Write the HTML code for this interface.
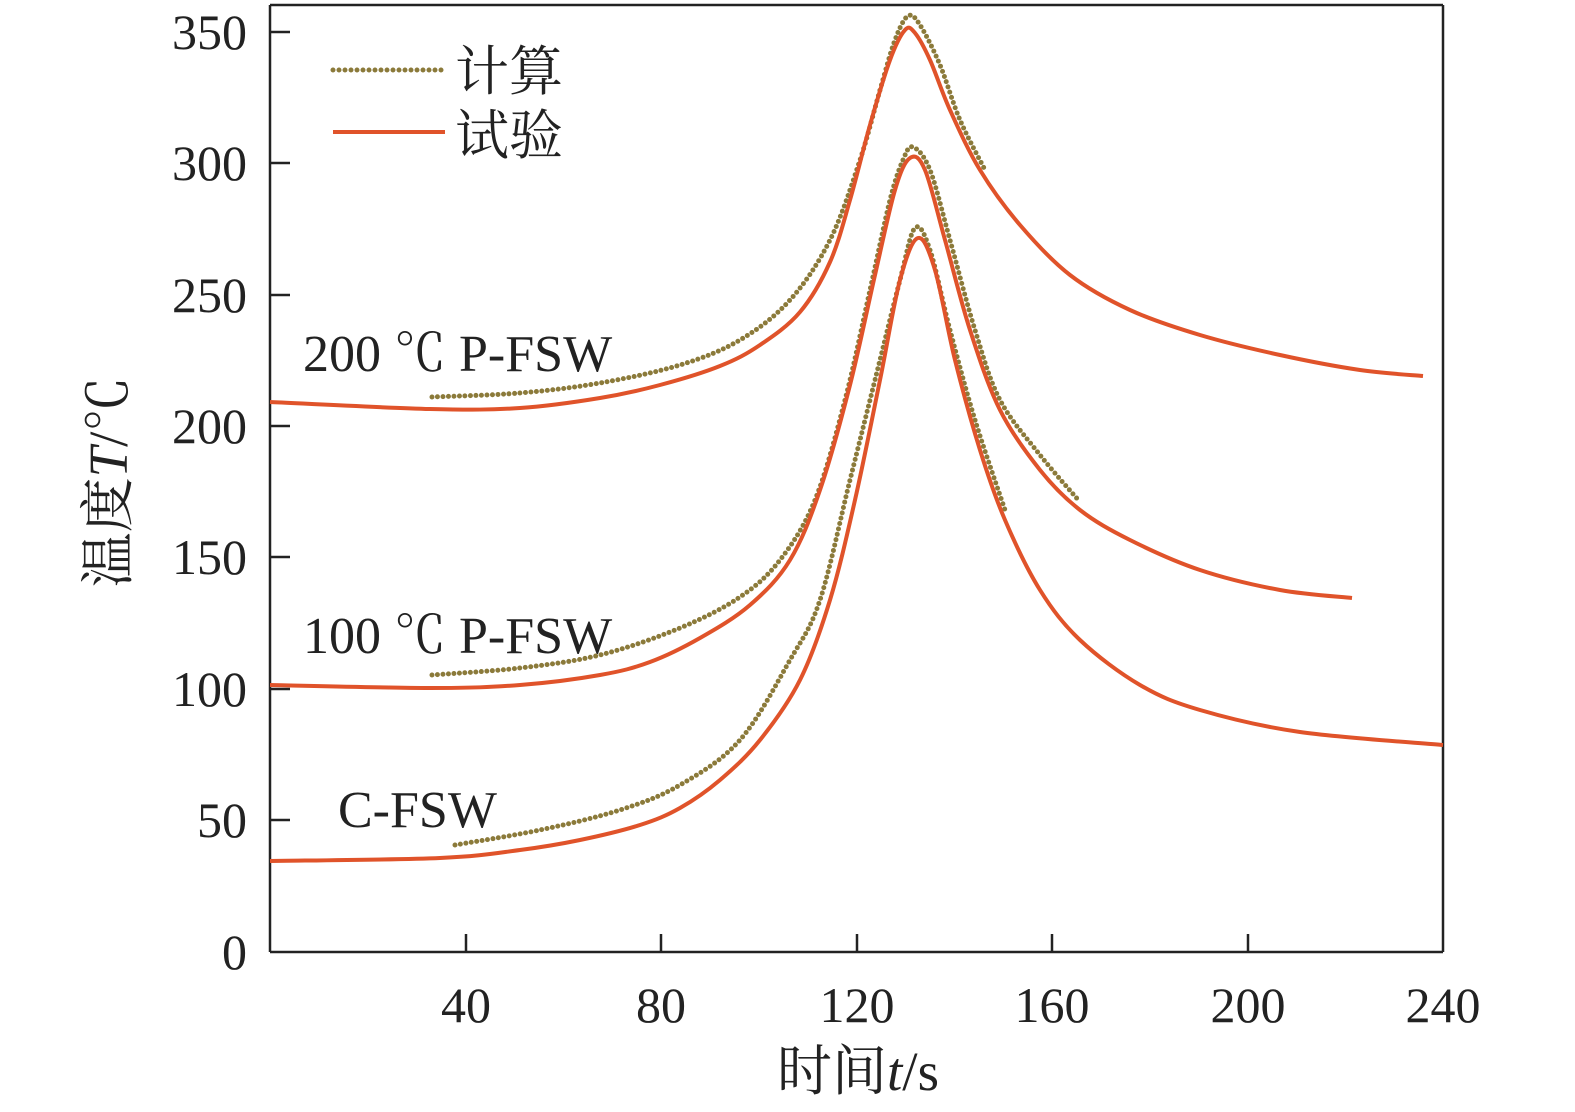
<!DOCTYPE html>
<html><head><meta charset="utf-8"><style>
html,body{margin:0;padding:0;background:#fff;overflow:hidden;}
svg{display:block;}
svg text{font-family:"Liberation Serif","Noto Serif CJK SC",serif;fill:#222;}
</style></head><body>
<svg id="s" width="1575" height="1112" viewBox="0 0 1575 1112" xmlns="http://www.w3.org/2000/svg">
<rect width="1575" height="1112" fill="#fff"/>
<g stroke="#222" stroke-width="2.5" fill="none">
<line x1="270" y1="5" x2="270" y2="952"/>
<line x1="270" y1="952" x2="1443" y2="952"/>
<line x1="270" y1="5" x2="1443" y2="5"/>
<line x1="1443" y1="5" x2="1443" y2="952"/>
<line x1="270" y1="32" x2="290" y2="32"/>
<line x1="270" y1="163" x2="290" y2="163"/>
<line x1="270" y1="295" x2="290" y2="295"/>
<line x1="270" y1="426" x2="290" y2="426"/>
<line x1="270" y1="557" x2="290" y2="557"/>
<line x1="270" y1="689" x2="290" y2="689"/>
<line x1="270" y1="820" x2="290" y2="820"/>
<line x1="466" y1="952" x2="466" y2="934"/>
<line x1="661" y1="952" x2="661" y2="934"/>
<line x1="857" y1="952" x2="857" y2="934"/>
<line x1="1052" y1="952" x2="1052" y2="934"/>
<line x1="1248" y1="952" x2="1248" y2="934"/>
</g>
<g font-size="50" text-anchor="end">
<text x="247" y="49">350</text><text x="247" y="180">300</text><text x="247" y="312">250</text>
<text x="247" y="443">200</text><text x="247" y="574">150</text><text x="247" y="706">100</text>
<text x="247" y="837">50</text><text x="247" y="969">0</text>
</g>
<g font-size="50" text-anchor="middle">
<text x="466" y="1022">40</text><text x="661" y="1022">80</text><text x="857" y="1022">120</text>
<text x="1052" y="1022">160</text><text x="1248" y="1022">200</text><text x="1443" y="1022">240</text>
</g>
<text x="858" y="1090" font-size="55" text-anchor="middle">时间<tspan font-style="italic">t</tspan>/s</text>
<text transform="translate(127,482) rotate(-90)" font-size="55" text-anchor="middle">温度<tspan font-style="italic">T</tspan>/℃</text>
<line x1="333" y1="70" x2="445" y2="70" stroke="#8b7a3a" stroke-width="5" stroke-dasharray="0 6" stroke-linecap="round"/>
<line x1="333" y1="132" x2="445" y2="132" stroke="#e0532a" stroke-width="4"/>
<text x="455" y="90" font-size="54">计算</text>
<text x="455" y="154" font-size="54">试验</text>
<g font-size="52">
<text x="303" y="371">200 ℃ P-FSW</text>
<text x="303" y="653">100 ℃ P-FSW</text>
<text x="338" y="827">C-FSW</text>
</g>
<g id="curves"></g>
</svg>
<script>
function cr(p){let d="M"+p[0][0]+","+p[0][1];for(let i=0;i<p.length-1;i++){const a=p[i-1]||p[i],b=p[i],c=p[i+1],e=p[i+2]||c;
d+=" C"+(b[0]+(c[0]-a[0])/6)+","+(b[1]+(c[1]-a[1])/6)+" "+(c[0]-(e[0]-b[0])/6)+","+(c[1]-(e[1]-b[1])/6)+" "+c[0]+","+c[1];}return d;}
const calc=[
[[432,397],[520,393],[600,383],[680,365],[740,340],[790,300],[830,240],[860,160],[880,90],[895,40],[908,16],[920,25],[940,65],[960,120],[985,170]],
[[432,675],[520,668],[600,655],[680,628],[740,597],[780,560],[815,500],[845,400],[870,290],[890,200],[903,160],[913,147],[930,170],[950,240],[975,330],[1000,400],[1040,455],[1080,502]],
[[455,845],[540,830],[620,810],[680,785],[740,740],[790,660],[820,600],[850,480],[875,380],[900,280],[915,228],[930,250],[950,330],[975,420],[1005,510]]];
const exp=[
[[270,402],[430,409],[520,408],[600,398],[660,385],[720,366],[760,345],[800,312],[830,262],[850,200],[870,125],[890,60],[905,30],[915,33],[930,60],[950,110],[980,170],[1020,225],[1070,275],[1130,310],[1200,335],[1280,355],[1360,370],[1423,376]],
[[270,685],[430,688],[520,685],[600,675],[650,662],[700,638],[750,605],[790,560],[820,490],[850,385],[875,275],[895,190],[910,158],[925,170],[945,240],[970,330],[1000,410],[1040,470],[1080,510],[1130,540],[1200,570],[1280,590],[1352,598]],
[[270,861],[440,858],[520,850],[580,840],[640,825],[680,808],[720,780],[760,740],[800,680],[830,600],[855,500],[880,380],[900,280],[918,238],[935,270],[955,360],[980,450],[1005,520],[1040,590],[1080,640],[1140,685],[1200,710],[1300,732],[1443,745]]];
let h="";
calc.forEach(p=>h+='<path d="'+cr(p)+'" fill="none" stroke="#8b7a3a" stroke-width="5" stroke-linecap="round" stroke-dasharray="0 5.5"/>');
exp.forEach(p=>h+='<path d="'+cr(p)+'" fill="none" stroke="#e0532a" stroke-width="4"/>');
document.getElementById("curves").innerHTML=h;
</script>
</body></html>
